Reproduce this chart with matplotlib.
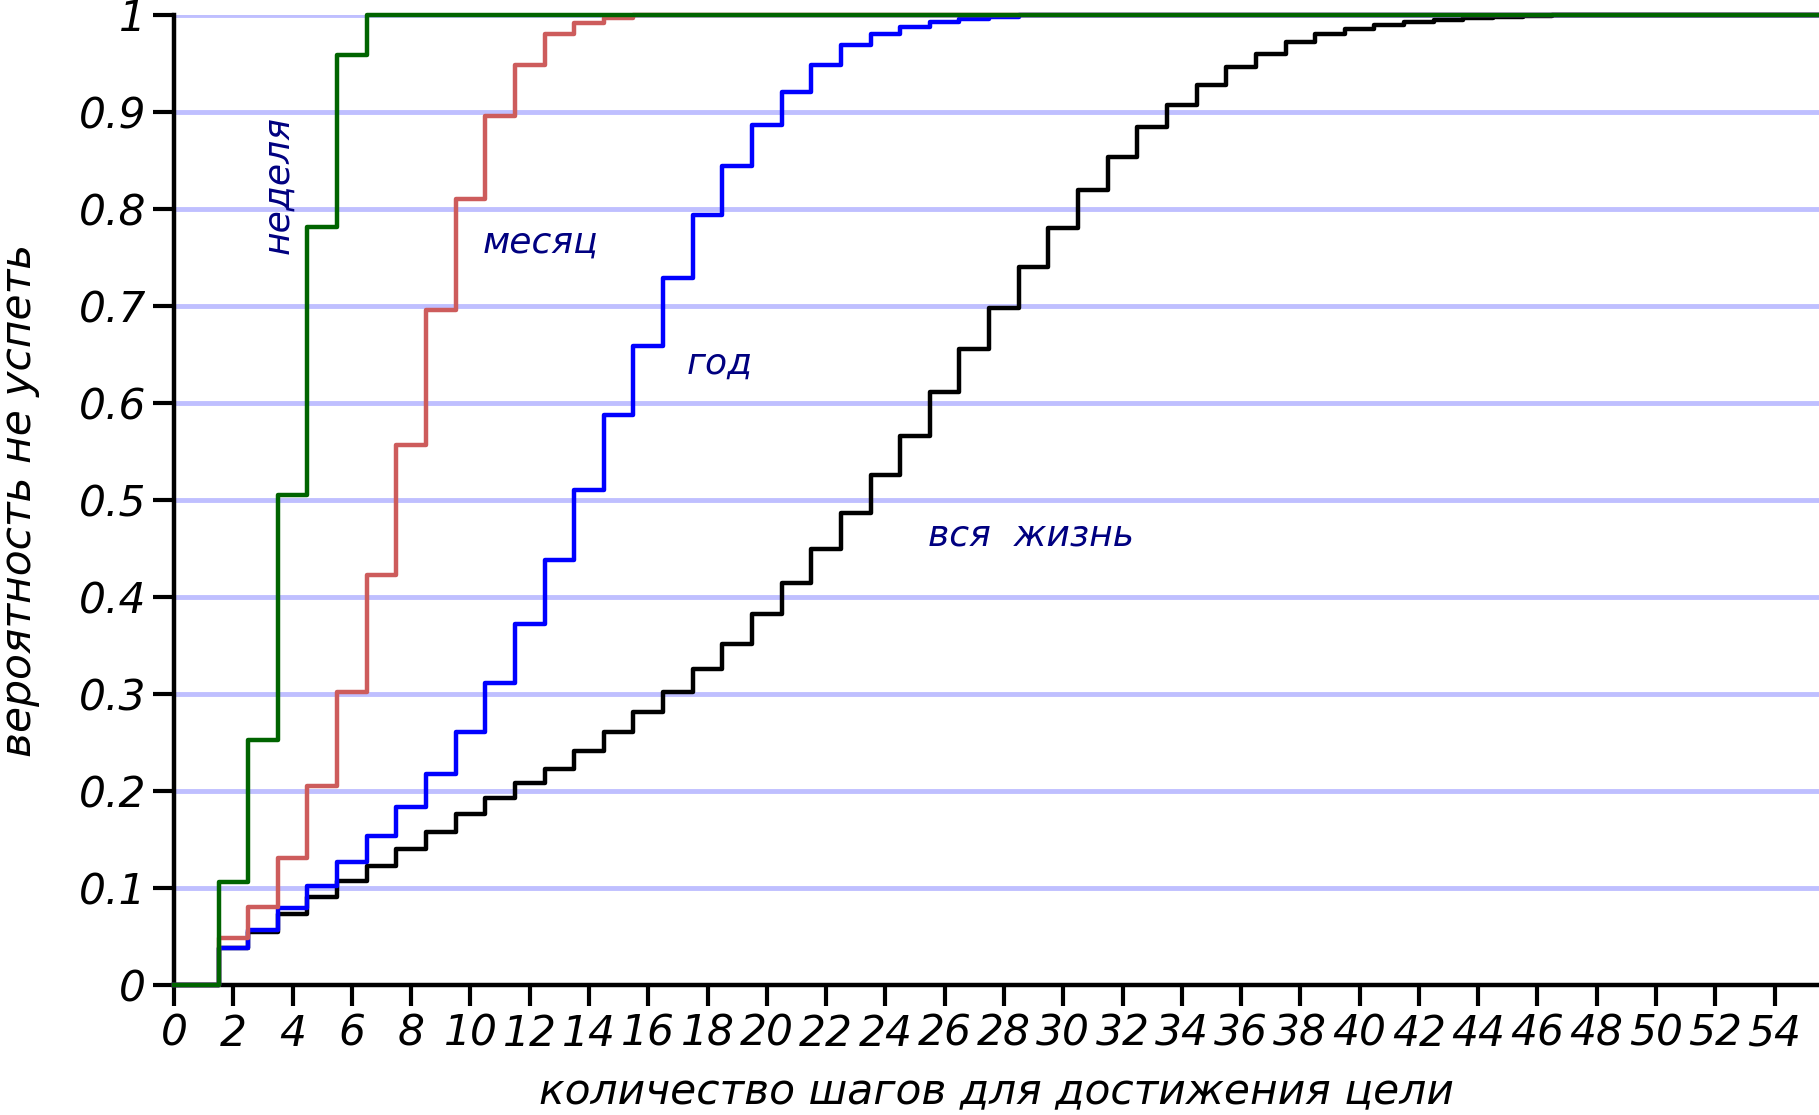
import matplotlib.pyplot as plt
import numpy as np

# probability of not making it, by number of steps (value at step n covers n-0.5 .. n+0.5)
week = [0, 0, 0.106, 0.253, 0.505, 0.781, 0.959] + [1.0] * 50
month = [0, 0, 0.048, 0.080, 0.131, 0.205, 0.302, 0.423, 0.557, 0.696, 0.810,
         0.896, 0.948, 0.980, 0.992, 0.997] + [1.0] * 41
year = [0, 0, 0.038, 0.057, 0.079, 0.102, 0.127, 0.154, 0.183, 0.218, 0.261,
        0.311, 0.372, 0.438, 0.510, 0.588, 0.659, 0.729, 0.794, 0.844, 0.887,
        0.921, 0.948, 0.969, 0.980, 0.988, 0.993, 0.996, 0.998] + [1.0] * 28
life = [0, 0, 0.038, 0.055, 0.073, 0.091, 0.107, 0.123, 0.140, 0.158, 0.176,
        0.193, 0.208, 0.223, 0.241, 0.261, 0.281, 0.302, 0.326, 0.352, 0.382,
        0.414, 0.449, 0.487, 0.526, 0.566, 0.611, 0.656, 0.698, 0.740, 0.780,
        0.820, 0.854, 0.884, 0.907, 0.928, 0.946, 0.960, 0.972, 0.980, 0.985,
        0.990, 0.993, 0.995, 0.997, 0.998, 0.999] + [1.0] * 10

series_names = ['вся жизнь', 'год', 'месяц', 'неделя']
series_colors = ['black', '#0000ff', '#cd5c5c', '#006400']

FS = 30.5
plt.rcParams['font.family'] = ['DejaVu Sans']

fig = plt.figure(figsize=(18.19, 11.15), dpi=100)
ax = fig.add_axes([0.0957, 0.1166, 0.9043, 0.870])

ax.set_yticks(np.arange(0, 1.01, 0.1))
ax.yaxis.grid(True, color='#bfbfff', linewidth=3.5)
ax.set_axisbelow(True)

for vals, color in zip([life, year, month, week], series_colors):
    x = np.arange(len(vals))
    ax.plot(x, vals, drawstyle='steps-mid', color=color, linewidth=3.2,
            clip_on=False, zorder=3)

ax.set_xlim(0, 55.5)
ax.set_ylim(0, 1)
ax.set_xticks(np.arange(0, 55, 2))
ax.set_xticklabels([str(v) for v in range(0, 55, 2)], fontsize=FS, fontstyle='italic')
ax.set_yticklabels(['0'] + [f'{v / 10:.1f}' for v in range(1, 10)] + ['1'],
                   fontsize=FS, fontstyle='italic')
ax.tick_params(axis='both', length=15, width=3, direction='out', pad=5)

for side in ['top', 'right']:
    ax.spines[side].set_visible(False)
for side in ['left', 'bottom']:
    ax.spines[side].set_linewidth(3.2)

ax.set_xlabel('количество шагов для достижения цели', fontsize=FS,
              fontstyle='italic', labelpad=12)
ax.set_ylabel('вероятность не успеть', fontsize=FS, fontstyle='italic', labelpad=28)

# curve labels
ax.text(3.53, 0.825, 'неделя', rotation=90, ha='center', va='center',
        fontsize=26, fontstyle='italic', color='#000080')
ax.text(12.35, 0.765, 'месяц', ha='center', va='center',
        fontsize=26, fontstyle='italic', color='#000080')
ax.text(18.4, 0.64, 'год', ha='center', va='center',
        fontsize=26, fontstyle='italic', color='#000080')
ax.text(28.9, 0.463, 'вся  жизнь', ha='center', va='center',
        fontsize=26, fontstyle='italic', color='#000080')

fig.savefig('out.png', dpi=100)
